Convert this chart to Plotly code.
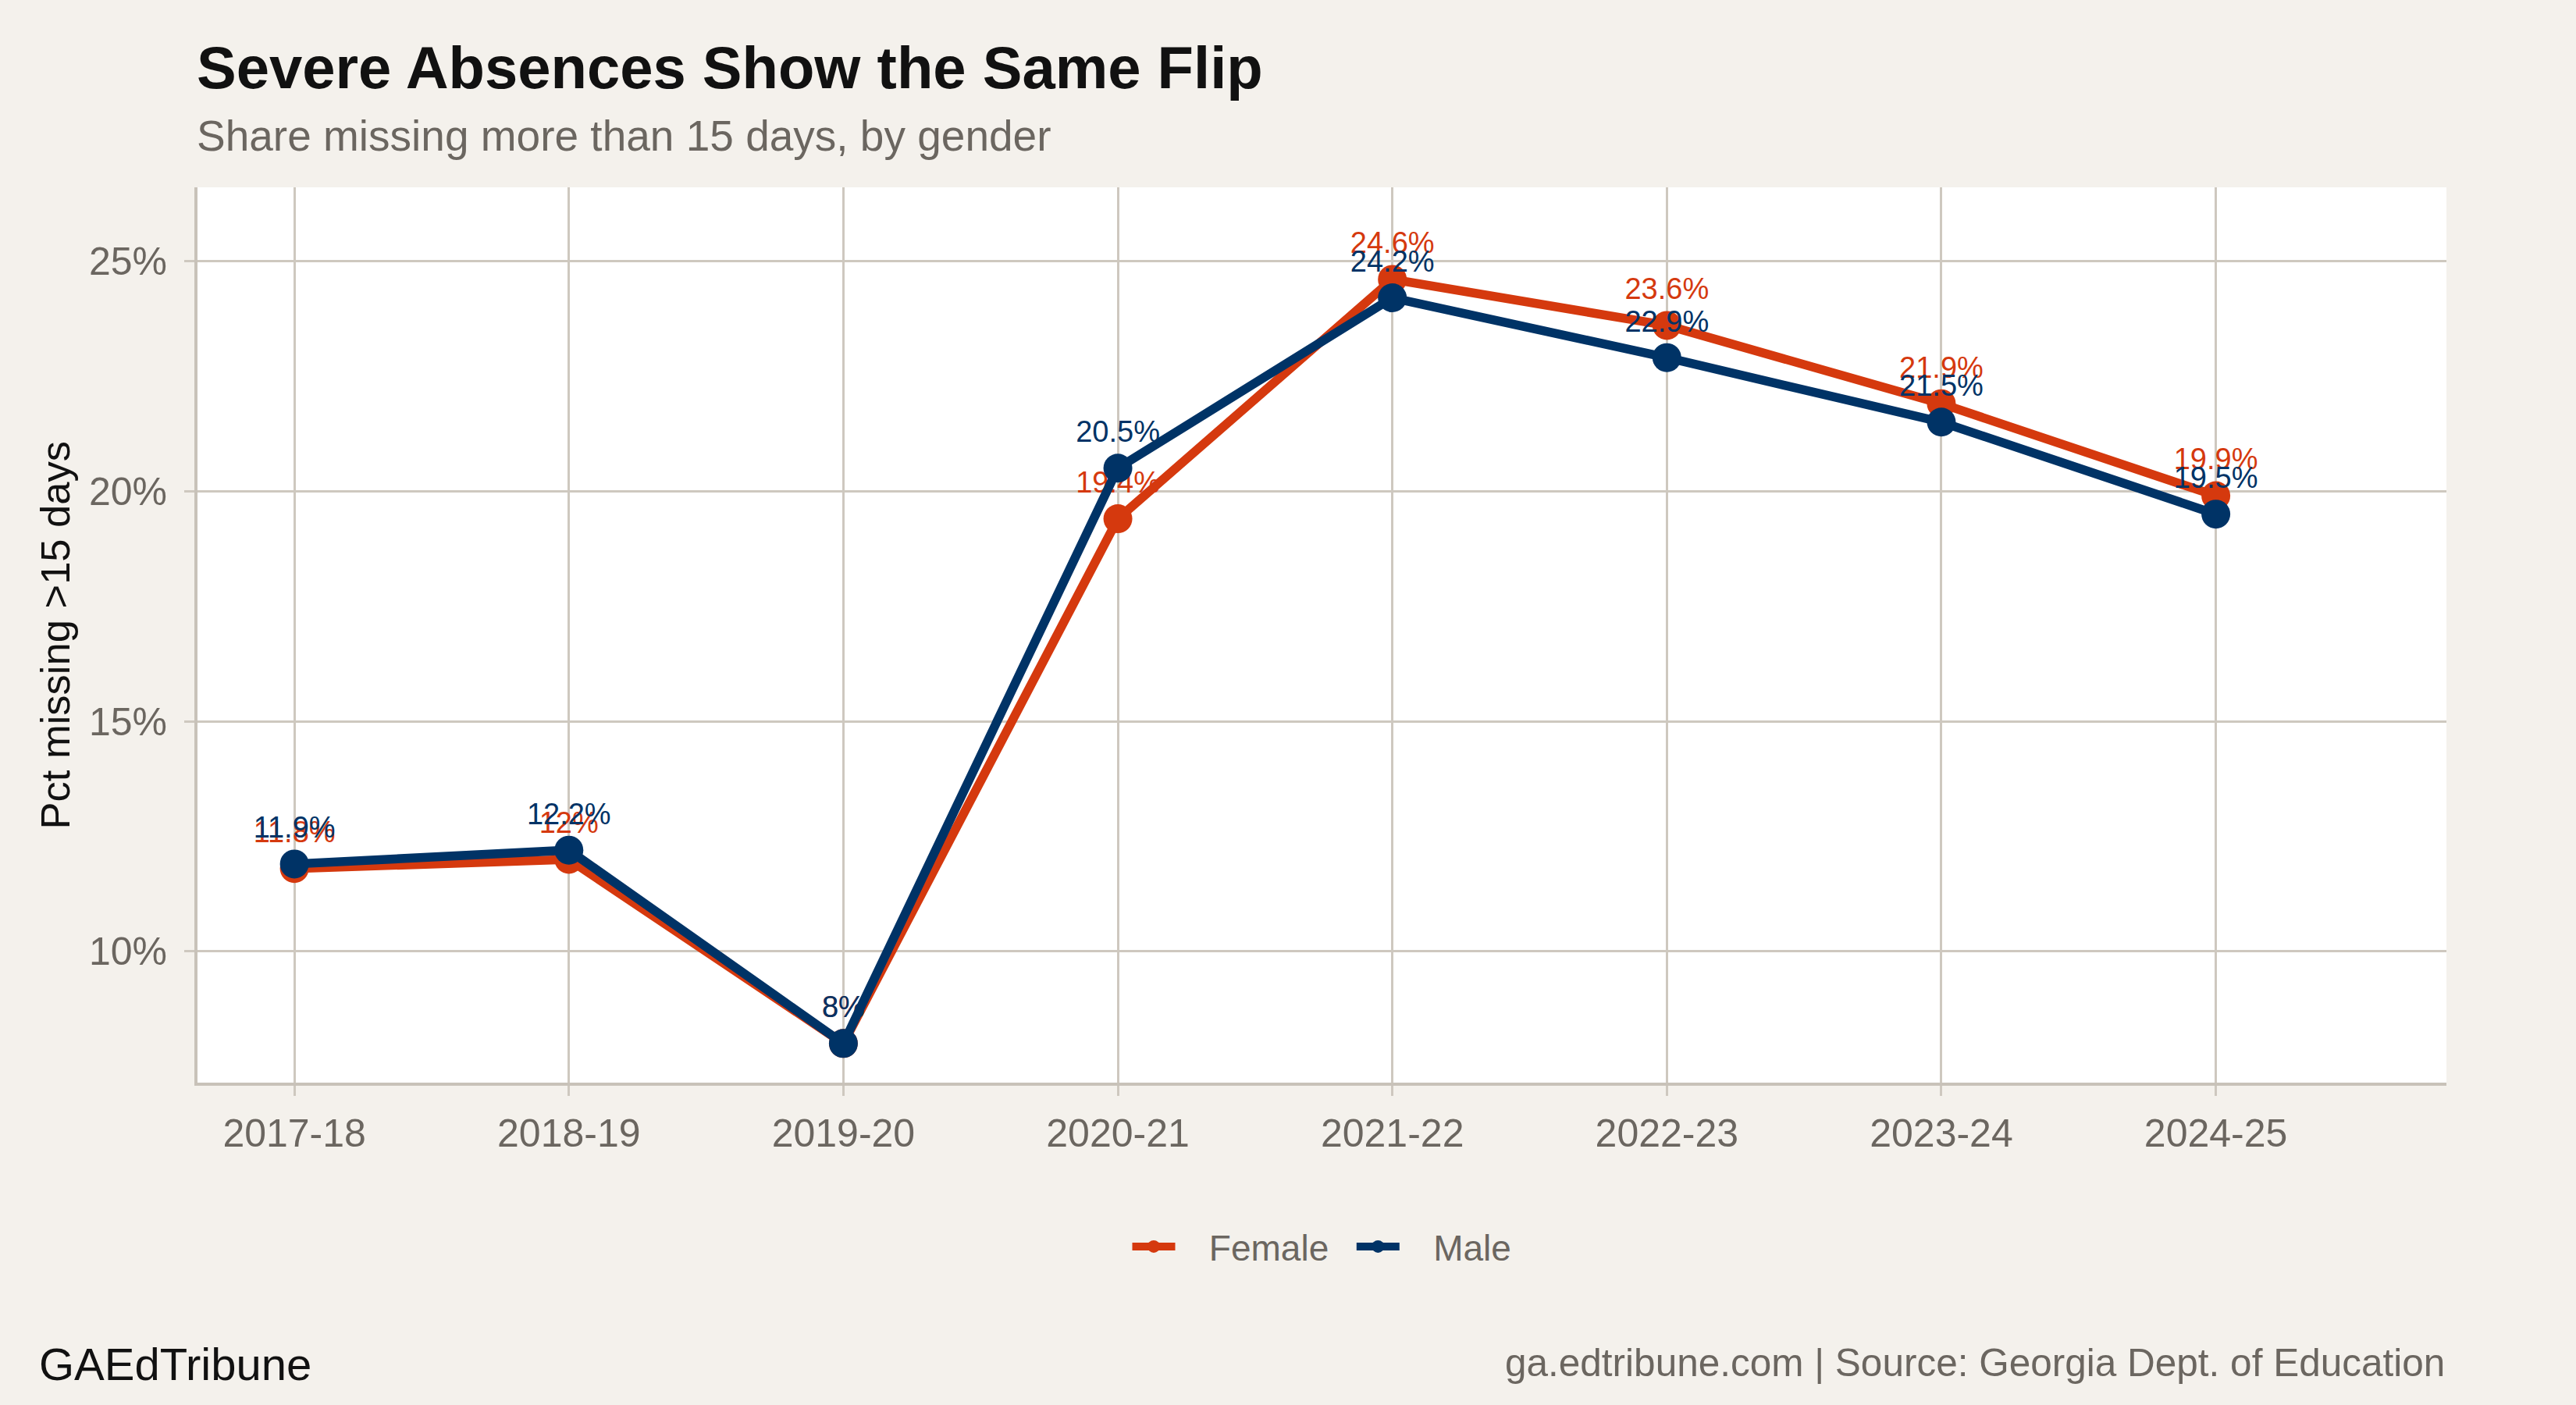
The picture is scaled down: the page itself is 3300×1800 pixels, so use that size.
import plotly.graph_objects as go

years = ["2017-18", "2018-19", "2019-20", "2020-21", "2021-22", "2022-23", "2023-24", "2024-25"]
female = [11.8, 12.0, 8.0, 19.4, 24.6, 23.6, 21.9, 19.9]
male = [11.9, 12.2, 8.0, 20.5, 24.2, 22.9, 21.5, 19.5]
y_ticks = [10, 15, 20, 25]
y_tick_text = [f"{v}%" for v in y_ticks]

FEMALE_C = "#D5390E"
MALE_C = "#003366"
BG = "#F4F1EC"
GRID = "#CEC8BF"
GRAY_TXT = "#6B6660"
FONT = "Liberation Sans"


def fmt(v):
    return f"{v:g}%"


fig = go.Figure()
for name, vals, col, legname in [("Female", female, FEMALE_C, "   Female  "),
                                 ("Male", male, MALE_C, "   Male")]:
    fig.add_trace(go.Scatter(
        x=years, y=vals, name=legname, mode="lines+markers+text",
        line=dict(color=col, width=11.5),
        marker=dict(color=col, size=37),
        text=[fmt(v) for v in vals], textposition="top center",
        textfont=dict(color=col, size=38, family=FONT),
        cliponaxis=False,
    ))

W, H = 3300, 1800
L, R, T, B = 253, 166, 240, 413
ph = H - T - B
pw = W - L - R


def py(pix):
    return (H - B - pix) / ph


def px(pix):
    return (pix - L) / pw


axis_common = dict(
    showgrid=True, gridcolor=GRID, gridwidth=2.7,
    showline=True, linecolor="#C8C2B9", linewidth=4,
    ticks="outside", ticklen=13, tickwidth=2.7, tickcolor=GRID,
    tickfont=dict(size=50, color=GRAY_TXT, family=FONT),
    zeroline=False,
)

fig.update_layout(
    width=W, height=H,
    margin=dict(l=L, r=R, t=T, b=B),
    paper_bgcolor=BG, plot_bgcolor="white",
    font=dict(family=FONT, color=GRAY_TXT),
    showlegend=True,
    legend=dict(orientation="h", x=0.5, xanchor="center", y=py(1597), yanchor="middle",
                font=dict(size=46, color=GRAY_TXT, family=FONT), bgcolor="rgba(0,0,0,0)",
                itemwidth=55, tracegroupgap=0),
    xaxis=dict(type="category", range=[-0.353, 7.84], ticklabelstandoff=5, **axis_common),
    yaxis=dict(range=[7.15, 26.6], tickmode="array", tickvals=y_ticks, ticktext=y_tick_text,
               ticklabelstandoff=12, **axis_common),
    annotations=[
        dict(text="<b>Severe Absences Show the Same Flip</b>", xref="paper", yref="paper",
             x=px(250), y=py(86), xanchor="left", yanchor="middle", showarrow=False,
             font=dict(size=76, color="#111111", family=FONT)),
        dict(text="Share missing more than 15 days, by gender", xref="paper", yref="paper",
             x=px(250), y=py(174), xanchor="left", yanchor="middle", showarrow=False,
             font=dict(size=55, color=GRAY_TXT, family=FONT)),
        dict(text="Pct missing >15 days", xref="paper", yref="paper", x=px(70), y=0.5,
             xanchor="center", yanchor="middle", textangle=-90, showarrow=False,
             font=dict(size=52.5, color="#111111", family=FONT)),
        dict(text="GAEdTribune", xref="paper", yref="paper", x=px(48), y=py(1747),
             xanchor="left", yanchor="middle", showarrow=False,
             font=dict(size=58, color="#111111", family=FONT)),
        dict(text="ga.edtribune.com | Source: Georgia Dept. of Education", xref="paper", yref="paper",
             x=1, y=py(1745), xanchor="right", yanchor="middle", showarrow=False,
             font=dict(size=49.5, color=GRAY_TXT, family=FONT)),
    ],
)

fig.write_html("out.html")
